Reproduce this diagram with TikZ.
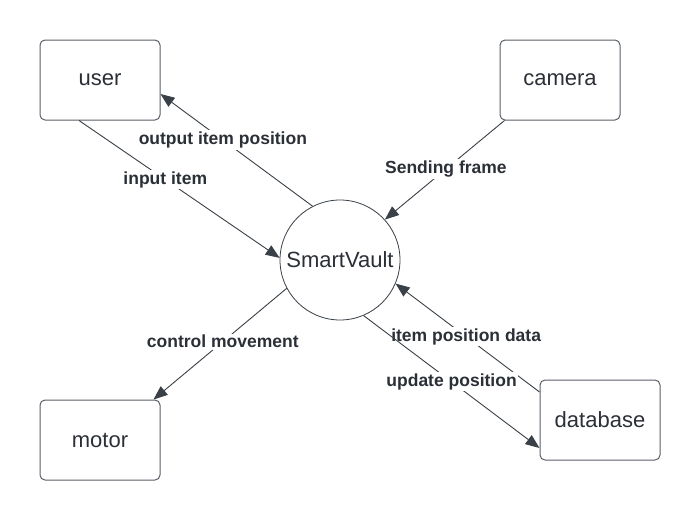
\documentclass[tikz,border=0pt]{standalone}
\usepackage{fontspec}
\setmainfont{Liberation Sans}
\usetikzlibrary{arrows.meta}
\definecolor{linec}{HTML}{3A4048}
\definecolor{boxc}{HTML}{5A6068}
\definecolor{txtc}{HTML}{2B2F36}
\tikzset{
  entity/.style={draw=boxc, line width=1pt, rounded corners=5pt, minimum width=120pt, minimum height=80pt, inner sep=0pt, text=txtc, font=\fontsize{22}{26}\selectfont},
  proc/.style={draw=linec, line width=0.8pt, circle, minimum size=120pt, inner sep=0pt, text=txtc, font=\fontsize{22}{26}\selectfont},
  flow/.style={draw=linec, line width=0.9pt, -{Triangle[length=14pt,width=11pt]}},
  lbl/.style={fill=white, text=txtc, inner sep=1.5pt, font=\bfseries\fontsize{17.5}{20}\selectfont}
}
\begin{document}
\begin{tikzpicture}[x=1pt,y=-1pt]
\useasboundingbox[fill=white] (0,0) rectangle (700,520);
\node[entity] (user) at (100,80) {user};
\node[entity] (camera) at (560,80) {camera};
\node[entity] (motor) at (100,440) {motor};
\node[entity] (db) at (600,420) {database};
\node[proc] (sv) at (340,260) {SmartVault};

\draw[flow] ([xshift=-21pt]user.south) -- node[lbl, pos=0.43] {input item} (sv.178);
\draw[flow] (sv.117) -- node[lbl, pos=0.59] {output item position} ([yshift=-14pt]user.east);
\draw[flow] ([xshift=5pt]camera.south west) -- node[lbl, pos=0.49] {Sending frame} (sv.42);
\draw[flow] (sv.208) -- node[lbl, pos=0.48] {control movement} ([xshift=-7pt]motor.north east);
\draw[flow] ([yshift=28pt]db.west) -- node[lbl, pos=0.51] {item position data} (sv.337);
\draw[flow] (sv.293) -- node[lbl, pos=0.5] {update position} ([yshift=-28pt]db.west);
\end{tikzpicture}
\end{document}
